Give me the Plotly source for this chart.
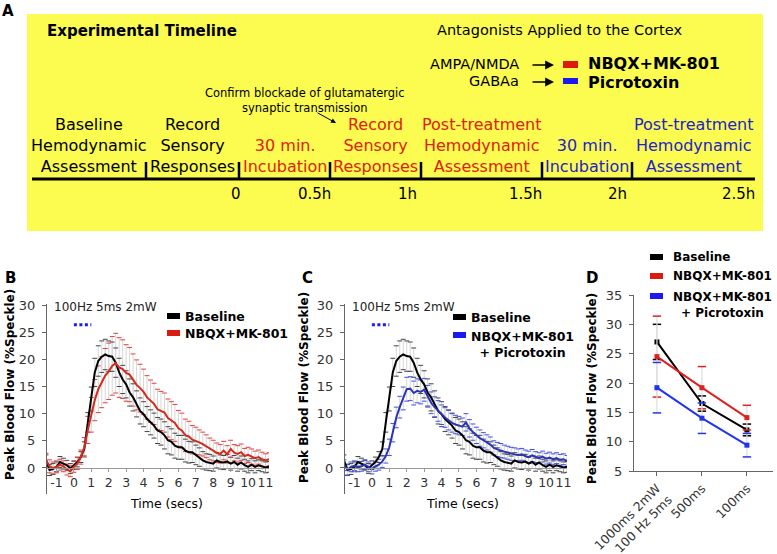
import plotly.graph_objects as go

W, H = 777, 554
FONT = "DejaVu Sans"
RED = "#DD2211"
BLUE = "#2222CC"
YELLOW = "#FBFB50"

# -----------------------
# Panel A: timeline text
# -----------------------
stage_labels = [
    "Baseline<br>Hemodynamic<br>Assessment",
    "Record<br>Sensory<br>Responses",
    "30 min.<br>Incubation",
    "Record<br>Sensory<br>Responses",
    "Post-treatment<br>Hemodynamic<br>Assessment",
    "30 min.<br>Incubation",
    "Post-treatment<br>Hemodynamic<br>Assessment",
]
stage_colors = ["black", "black", RED, RED, RED, BLUE, BLUE]
stage_edges_px = [32, 146, 239, 330, 421, 542, 632, 755]
time_labels = ["0", "0.5h", "1h", "1.5h", "2h", "2.5h"]
time_label_px = [236, 314, 408, 525, 617, 738]

# -----------------------
# Panels B, C: time courses (%Speckle)
# -----------------------
time_s = [-1.6, -1.4, -1.2, -1.0, -0.8, -0.6, -0.4, -0.2, 0.0, 0.2,
          0.4, 0.6, 0.8, 1.0, 1.2, 1.4, 1.6, 1.8, 2.0, 2.2,
          2.4, 2.6, 2.8, 3.0, 3.2, 3.4, 3.6, 3.8, 4.0, 4.2,
          4.4, 4.6, 4.8, 5.0, 5.2, 5.4, 5.6, 5.8, 6.0, 6.2,
          6.4, 6.6, 6.8, 7.0, 7.2, 7.4, 7.6, 7.8, 8.0, 8.2,
          8.4, 8.6, 8.8, 9.0, 9.2, 9.4, 9.6, 9.8, 10.0, 10.2,
          10.4, 10.6, 10.8, 11.0, 11.2]

baseline_mean = [1.4, -0.4, -0.2, 0.2, 1.1, 0.8, 0.5, -0.1, 0.5, 1.1,
                 2.0, 3.5, 8.4, 12.7, 17.6, 19.7, 20.5, 20.9, 20.6, 20.5,
                 19.4, 17.6, 16.3, 15.4, 13.9, 13.0, 11.8, 10.5, 9.9, 9.0,
                 8.4, 7.8, 6.9, 6.6, 6.0, 5.1, 4.8, 4.1, 3.8, 3.8,
                 3.2, 2.9, 2.9, 2.4, 2.0, 1.4, 1.1, 1.0, 0.8, 1.4,
                 1.1, 1.0, 1.2, 0.8, 1.1, 0.6, 1.0, 0.5, 0.2, 0.6,
                 0.2, 0.5, 0.3, 0.1, 0.2]
baseline_sem = [1.0, 1.0, 1.0, 0.9, 1.0, 1.0, 0.9, 0.9, 0.8, 0.9,
                1.0, 1.3, 1.8, 2.2, 2.6, 2.8, 2.9, 2.8, 2.8, 2.7,
                2.7, 2.6, 2.6, 2.5, 2.5, 2.5, 2.4, 2.4, 2.3, 2.3,
                2.3, 2.3, 2.4, 2.4, 2.5, 2.5, 2.4, 2.3, 2.2, 2.2,
                2.1, 2.0, 1.9, 1.8, 1.7, 1.6, 1.5, 1.5, 1.4, 1.4,
                1.3, 1.3, 1.3, 1.2, 1.2, 1.2, 1.2, 1.1, 1.1, 1.1,
                1.1, 1.0, 1.0, 1.0, 1.0]

nbqx_mean = [1.5, 0.3, 0.0, 0.2, 0.6, 0.3, -0.3, -0.6, 0.2, 0.8,
             2.0, 3.8, 7.0, 9.8, 12.5, 14.5, 15.8, 17.0, 17.8, 18.8,
             19.3, 18.5, 18.2, 17.5, 17.2, 16.2, 15.3, 14.7, 14.0, 13.0,
             12.3, 11.8, 10.8, 10.5, 10.2, 9.2, 8.7, 8.3, 7.3, 6.9,
             6.0, 5.8, 5.2, 5.0, 4.7, 4.4, 4.0, 3.5, 3.2, 2.8,
             2.6, 3.2, 2.5, 3.5, 2.8, 2.6, 2.9, 2.2, 2.4, 2.1,
             1.8, 2.0, 1.6, 1.4, 1.6]
nbqx_sem = [1.2, 1.2, 1.1, 1.1, 1.0, 1.0, 1.0, 1.0, 1.0, 1.1,
            1.3, 1.8, 2.5, 3.2, 3.8, 4.3, 4.7, 5.0, 5.2, 5.4,
            5.5, 5.5, 5.4, 5.2, 5.0, 4.8, 4.6, 4.4, 4.2, 4.0,
            3.9, 3.8, 3.7, 3.6, 3.6, 3.5, 3.5, 3.4, 3.3, 3.2,
            3.0, 2.8, 2.6, 2.5, 2.3, 2.2, 2.1, 2.0, 1.9, 1.8,
            1.7, 1.7, 1.6, 1.6, 1.5, 1.5, 1.5, 1.4, 1.4, 1.4,
            1.3, 1.3, 1.3, 1.2, 1.2]

picro_mean = [0.5, -0.3, 0.2, 0.4, 0.2, 0.3, 0.6, 0.2, -0.2, 0.3,
              0.6, 1.2, 2.2, 3.8, 6.5, 9.3, 11.2, 12.8, 14.5, 14.6,
              13.8, 14.2, 14.0, 14.4, 13.2, 12.0, 11.2, 10.5, 9.8, 9.3,
              8.8, 8.3, 8.0, 7.8, 7.6, 8.4, 7.3, 6.6, 6.0, 5.5,
              5.1, 4.7, 4.3, 3.7, 3.4, 3.2, 3.0, 2.8, 2.6, 2.5,
              2.4, 2.5, 2.2, 2.0, 2.3, 2.0, 1.8, 2.1, 1.7, 1.9,
              1.6, 1.8, 1.5, 1.6, 1.3]
picro_sem = [1.0, 1.0, 0.9, 0.9, 0.9, 0.9, 0.9, 0.9, 0.9, 0.9,
             1.0, 1.1, 1.3, 1.5, 1.7, 1.9, 2.0, 2.1, 2.2, 2.2,
             2.2, 2.2, 2.2, 2.1, 2.0, 2.0, 1.9, 1.9, 1.8, 1.8,
             1.8, 1.7, 1.7, 1.7, 1.6, 1.6, 1.6, 1.5, 1.5, 1.5,
             1.4, 1.4, 1.4, 1.3, 1.3, 1.3, 1.2, 1.2, 1.2, 1.2,
             1.1, 1.1, 1.1, 1.1, 1.1, 1.0, 1.0, 1.0, 1.0, 1.0,
             1.0, 1.0, 1.0, 1.0, 1.0]

stim_window = [0.0, 1.0]
stim_level = 26.4
time_ticks = [-1, 0, 1, 2, 3, 4, 5, 6, 7, 8, 9, 10, 11]

# -----------------------
# Panel D: peak values per stimulus
# -----------------------
stim_labels = ["1000ms 2mW<br>100 Hz 5ms", "500ms", "100ms"]
peak_baseline = [27.0, 16.5, 12.0]
peak_baseline_sem = [3.0, 1.3, 1.0]
peak_nbqx = [24.5, 19.2, 14.1]
peak_nbqx_sem = [6.9, 3.6, 2.1]
peak_picro = [19.2, 14.0, 9.4]
peak_picro_sem = [4.3, 2.6, 2.0]


def px(x, y):
    return x / W, 1 - y / H


fig = go.Figure()
annotations = []
shapes = []


def text(x, y, s, size=13, color="black", bold=False, xanchor="center",
         yanchor="middle", align="center", angle=0):
    xx, yy = px(x, y)
    annotations.append(dict(
        x=xx, y=yy, xref="paper", yref="paper", text=f"<b>{s}</b>" if bold else s,
        showarrow=False, xanchor=xanchor, yanchor=yanchor, align=align,
        textangle=angle, font=dict(family=FONT, size=size, color=color)))


def rect(x0, y0, x1, y1, color):
    a, b = px(x0, y0)
    c, d = px(x1, y1)
    shapes.append(dict(type="rect", xref="paper", yref="paper", x0=a, y0=b,
                       x1=c, y1=d, fillcolor=color, line=dict(width=0), layer="below"))


def seg(x0, y0, x1, y1, color="black", width=1):
    a, b = px(x0, y0)
    c, d = px(x1, y1)
    shapes.append(dict(type="line", xref="paper", yref="paper", x0=a, y0=b,
                       x1=c, y1=d, line=dict(color=color, width=width)))


def arrow(x0, y0, x1, y1, width=1.2, size=1.0):
    xx, yy = px(x1, y1)
    annotations.append(dict(
        x=xx, y=yy, xref="paper", yref="paper", text="", showarrow=True,
        ax=x0 - x1, ay=y0 - y1, arrowhead=2, arrowsize=size,
        arrowwidth=width, arrowcolor="black"))


# -----------------------
# Panel A
# -----------------------
rect(27, 14, 763, 231, YELLOW)
text(8, 11, "A", size=15, bold=True)
text(45, 31, "Experimental Timeline", size=15, bold=True, xanchor="left")
text(559, 30, "Antagonists Applied to the Cortex", size=14.5)
text(521, 64, "AMPA/NMDA", size=14.5, xanchor="right")
text(521, 81, "GABAa", size=14.5, xanchor="right")
arrow(531, 65, 554, 65, width=1.6, size=1.1)
arrow(531, 82, 554, 82, width=1.6, size=1.1)
rect(563, 61, 578, 68, "#DD1A10")
rect(563, 78, 578, 84, "#1A1AEE")
text(586, 64, "NBQX+MK-801", size=16, bold=True, xanchor="left")
text(586, 82, "Picrotoxin", size=16, bold=True, xanchor="left")
text(305, 100, "Confirm blockade of glutamatergic<br>synaptic transmission", size=11.5)
arrow(316, 112, 336, 123, width=1, size=1)

seg(stage_edges_px[0], 179, stage_edges_px[-1], 179, width=3)
for e in stage_edges_px[1:-1]:
    seg(e, 162, e, 179, width=2.5)
for i, lab in enumerate(stage_labels):
    cx = (stage_edges_px[i] + stage_edges_px[i + 1]) / 2
    text(cx, 178, lab, size=16, color=stage_colors[i], yanchor="bottom")
for lab, x in zip(time_labels, time_label_px):
    text(x, 194, lab, size=15)


# -----------------------
# Panels B and C
# -----------------------
def add_course(mean, sem, color, cap_color, xa, ya, part):
    upper = [m + s for m, s in zip(mean, sem)]
    lower = [m - s for m, s in zip(mean, sem)]
    if part == "bars":
        fig.add_trace(go.Scatter(
            x=time_s, y=mean, mode="markers", xaxis=xa, yaxis=ya,
            marker=dict(size=2, color="rgba(0,0,0,0)"),
            error_y=dict(type="data", array=sem, color="#d6d6d6", thickness=1, width=0),
            showlegend=False, hoverinfo="skip"))
    elif part == "caps":
        fig.add_trace(go.Scatter(
            x=time_s + time_s, y=upper + lower, mode="markers", xaxis=xa, yaxis=ya,
            marker=dict(symbol="line-ew", size=3.5, line=dict(color=cap_color, width=1)),
            showlegend=False, hoverinfo="skip"))
    else:
        fig.add_trace(go.Scatter(
            x=time_s, y=mean, mode="lines", xaxis=xa, yaxis=ya,
            line=dict(color=color, width=2), showlegend=False))


panels = [
    ("x", "y", [(baseline_mean, baseline_sem, "black", "#444"),
                (nbqx_mean, nbqx_sem, "#D42A1E", "#E04040")]),
    ("x2", "y2", [(baseline_mean, baseline_sem, "black", "#444"),
                  (picro_mean, picro_sem, "#2A35B5", "#4050E0")]),
]
for xa, ya, series in panels:
    for part in ["bars", "caps", "lines"]:
        for mean, sem, color, cap_color in series:
            add_course(mean, sem, color, cap_color, xa, ya, part)
    fig.add_trace(go.Scatter(
        x=stim_window, y=[stim_level, stim_level], mode="lines", xaxis=xa, yaxis=ya,
        line=dict(color="#1a1aff", width=3, dash="3px,2.5px"), showlegend=False))
    fig.add_annotation(x=-1.25, y=29.6, xref=xa, yref=ya, text="100Hz 5ms 2mW",
                       showarrow=False, xanchor="left",
                       font=dict(family=FONT, size=12, color="#222"))

# -----------------------
# Panel D
# -----------------------
for vals, sems, color in [(peak_baseline, peak_baseline_sem, "black"),
                          (peak_nbqx, peak_nbqx_sem, "#DD2222"),
                          (peak_picro, peak_picro_sem, "#2233EE")]:
    xs = list(range(len(stim_labels)))
    fig.add_trace(go.Scatter(
        x=xs, y=vals, mode="markers", xaxis="x3", yaxis="y3",
        marker=dict(size=2, color="rgba(0,0,0,0)"),
        error_y=dict(type="data", array=sems, color="#dddddd", thickness=1.2, width=0),
        showlegend=False, hoverinfo="skip"))
    fig.add_trace(go.Scatter(
        x=xs + xs, y=[v + s for v, s in zip(vals, sems)] + [v - s for v, s in zip(vals, sems)],
        mode="markers", xaxis="x3", yaxis="y3",
        marker=dict(symbol="line-ew", size=6, line=dict(color=color, width=1.5)),
        showlegend=False, hoverinfo="skip"))
    fig.add_trace(go.Scatter(
        x=xs, y=vals, mode="lines+markers", xaxis="x3", yaxis="y3",
        line=dict(color=color, width=2), marker=dict(symbol="square", size=5, color=color),
        showlegend=False))

# -----------------------
# Legends, titles, labels for B/C/D
# -----------------------
text(10, 278, "B", size=15, bold=True)
text(307, 278, "C", size=15, bold=True)
text(592, 278, "D", size=15, bold=True)
ytitle = "Peak Blood Flow (%Speckle)"
text(10, 385, ytitle, size=12, bold=True, angle=-90)
text(304, 388, ytitle, size=12, bold=True, angle=-90)
text(592, 389, ytitle, size=12, bold=True, angle=-90)
text(166, 503, "Time (secs)", size=12.5)
text(463, 503, "Time (secs)", size=12.5)

legend_items_b = [("Baseline", "black"), ("NBQX+MK-801", "#DD1A10")]
legend_items_c = [("Baseline", "black"), ("NBQX+MK-801<br>+ Picrotoxin", "#1A1AEE")]
legend_items_d = [("Baseline", "black"), ("NBQX+MK-801", "#DD1A10"),
                  ("NBQX+MK-801<br>+ Picrotoxin", "#1A1AEE")]

for (lab, col), yy in zip(legend_items_b, [316, 333]):
    rect(167, yy - 3, 180, yy + 3, col)
    text(183, yy, lab, size=12.5, bold=True, xanchor="left")
for (lab, col), yy in zip(legend_items_c, [317, 335]):
    rect(453, yy - 3, 466, yy + 3, col)
    if "<br>" in lab:
        text(469, yy - 8, lab, size=12.5, bold=True, xanchor="left", yanchor="top")
    else:
        text(469, yy, lab, size=12.5, bold=True, xanchor="left")
for (lab, col), yy in zip(legend_items_d, [257, 276, 296]):
    rect(650, yy - 3, 663, yy + 3, col)
    if "<br>" in lab:
        text(671, yy - 8, lab, size=12, bold=True, xanchor="left", yanchor="top")
    else:
        text(671, yy, lab, size=12, bold=True, xanchor="left")

tick_font = dict(family=FONT, size=13, color="#333")
zero_pos = 1 - 468 / H


def time_xaxis(x0, x1):
    return dict(domain=[x0 / W, x1 / W], range=[-1.6, 11.2], anchor="free",
                position=zero_pos, tickvals=time_ticks, ticktext=[str(t) for t in time_ticks],
                tickangle=0, showline=True, linecolor="#999", linewidth=1, ticks="outside",
                ticklen=3, tickcolor="#999", tickfont=dict(family=FONT, size=12.5, color="#333"),
                showgrid=False, zeroline=False, automargin=False)


def flow_yaxis(xpos):
    return dict(domain=[1 - 494 / H, 1 - 304 / H], range=[-4.8, 30.2], anchor="free",
                position=xpos / W, tickvals=[0, 5, 10, 15, 20, 25, 30],
                showline=True, linecolor="#666", linewidth=1.2, ticks="outside",
                ticklen=4, tickcolor="#666", tickfont=tick_font, showgrid=False,
                zeroline=False, ticklabelstandoff=4, automargin=False)


fig.update_layout(
    width=W, height=H,
    margin=dict(l=0, r=0, t=0, b=0, autoexpand=False),
    paper_bgcolor="white", plot_bgcolor="white",
    font=dict(family=FONT),
    showlegend=False,
    xaxis=time_xaxis(46, 269),
    yaxis=flow_yaxis(46),
    xaxis2=time_xaxis(344, 567),
    yaxis2=flow_yaxis(344),
    xaxis3=dict(domain=[634 / W, 773 / W], range=[-0.51, 2.58], anchor="y3",
                tickvals=[0, 1, 2], ticktext=stim_labels, tickangle=-45,
                showline=True, linecolor="#666", linewidth=1.2, ticks="outside",
                ticklen=4, tickcolor="#666", tickfont=dict(family=FONT, size=12.5, color="#333"),
                showgrid=False, zeroline=False, automargin=False),
    yaxis3=dict(domain=[1 - 471 / H, 1 - 295 / H], range=[5, 35], anchor="x3",
                tickvals=[5, 10, 15, 20, 25, 30, 35],
                showline=True, linecolor="#666", linewidth=1.2, ticks="outside",
                ticklen=4, tickcolor="#666", tickfont=tick_font, showgrid=False,
                zeroline=False, ticklabelstandoff=4, automargin=False),
    annotations=list(fig.layout.annotations) + annotations,
    shapes=shapes,
)

# page body margin would shift the figure by 8px, so drop it
fig.write_html("out.html", config={"displayModeBar": False},
               post_script="document.body.style.margin='0';")
